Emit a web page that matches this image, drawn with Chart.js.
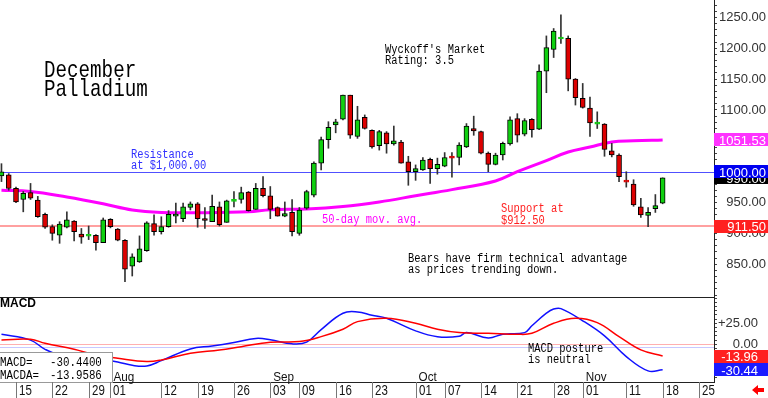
<!DOCTYPE html>
<html><head><meta charset="utf-8">
<script src="https://cdn.jsdelivr.net/npm/chart.js@4.4.1/dist/chart.umd.min.js"></script>
<style>
html,body{margin:0;padding:0;background:#fff;}
#wrap{position:relative;width:768px;height:398px;overflow:hidden;background:#fff;}
#c1{position:absolute;left:0;top:0;}
#c2{position:absolute;left:0;top:297px;}
</style></head><body>
<div id="wrap"><canvas id="c1" width="768" height="297"></canvas><canvas id="c2" width="768" height="101"></canvas></div>
<script>
// ---- DATA ----
const sessions = ['07-11','07-12','07-15','07-16','07-17','07-18','07-19','07-22','07-23','07-24','07-25','07-26','07-29','07-30','07-31','08-01','08-02','08-05','08-06','08-07','08-08','08-09','08-12','08-13','08-14','08-15','08-16','08-19','08-20','08-21','08-22','08-23','08-26','08-27','08-28','08-29','08-30','09-03','09-04','09-05','09-06','09-09','09-10','09-11','09-12','09-13','09-16','09-17','09-18','09-19','09-20','09-23','09-24','09-25','09-26','09-27','09-30','10-01','10-02','10-03','10-04','10-07','10-08','10-09','10-10','10-11','10-14','10-15','10-16','10-17','10-18','10-21','10-22','10-23','10-24','10-25','10-28','10-29','10-30','10-31','11-01','11-04','11-05','11-06','11-07','11-08','11-11','11-12','11-13','11-14','11-15','11-18','11-19','11-20','11-21','11-22','11-25'];

const opens = [993,995,973,955,966,954,931,911,897,910,920,899,
  895.5,897,885,923,907,889,847,854,872,916,
  903,911,928,924,942,948,924,919,943,918,
  952,955,967,939,973,961,942,928,934,900,
  941,962,1014,1052,1076,1085,1124,1057,1088,1067,
  1042,1063,1045,1048,1016,1000,1003,1020,1005,1009,
  1023,1023,1040,1070,1065,1030,1012,1027,1045,1086,
  1061,1085,1069,1163,1198,1215,1216,1150,1119,1103,
  1077,1077,1034,1027,984,980,943,929,940,949];
const highs = [1013,997,975,968,981,960,933,914,919,935,921,908,
  912,898,925,924,908,890,867,896,919,930,
  927,937,949,949,951,950,942,962,951,954,
  968,975,968,981,992,976,943,951,955,942,
  970,1016,1056,1081,1085,1124,1124,1106,1092,1068,
  1067,1065,1074,1051,1025,1011,1023,1022,1022,1031,
  1031,1047,1078,1090,1066,1032,1030,1048,1089,1094,
  1086,1086,1173,1220,1232,1254,1220,1151,1143,1121,
  1097,1078,1046,1029,1000,987,957,942,963,990];
const lows = [984,970,950,935,955,926,908,889,884,909,888,884,
  890,873,885,909,888,822,831,853,871,897,
  899,910,917,919,938,910,908,919,912,918,
  943,949,936,939,959,924,928,927,896,897,
  939,959,1003,1038,1063,1084,1054,1054,1069,1038,
  1035,1030,1043,1014,978,986,1002,981,996,1008,
  991,1011,1039,1059,1029,1000,1011,1019,1043,1048,
  1058,1056,1068,1128,1185,1208,1131,1108,1103,1057,
  1070,1025,1024,984,975,944,926,911,934,948];
const closes = [1000,973,951,965,957,927,910,900,915,922,903,894,
  896,885,922,911,889,842,862,875,917,903,
  911,931,931,943,948,924,921,944,914,953,
  953,966,937,973,961,939,928,932,903,938,
  968,1014,1052,1072,1081,1124,1059,1084,1070,1040,
  1065,1045,1050,1014,1000,1005,1019,1005,1012,1023,
  1022,1043,1074,1066,1030,1012,1027,1046,1084,1059,
  1083,1068,1163,1201,1228,1216,1150,1120,1104,1079,
  1077.5,1036,1027,992,983,946,930,934,945,990];

const maDates  = ['07-11','07-17','07-24','07-31','08-06','08-12','08-19','08-28','09-03','09-10','09-17','09-24','10-01','10-08','10-16','10-21','10-25','10-30','11-04','11-07','11-12','11-18'];
const maValues = [970,968,959,948,938,934,933.5,935,938.5,939.5,943.5,951,961,971,985,1000,1018,1032,1040,1048,1050,1051.53];

const macdDates  = ['07-11','07-17','07-19','07-23','07-29','08-02','08-06','08-08','08-12','08-16','08-21','08-26','08-29','09-03','09-06','09-10','09-12','09-17','09-19','09-23','09-25','10-01','10-04','10-09','10-10','10-15','10-17','10-22','10-23','10-25','10-28','10-29','11-01','11-06','11-11','11-14','11-18'];
const macdValues = [11.9,5,-6,-12.5,-15,-21,-25,-25.8,-19.5,-5.5,-2,2.2,7,5.5,0.5,2.5,17.5,37,38.5,34.5,31,16,9,9.5,13.9,7.5,12,13.9,22,37,42,42.5,28,10,-14.7,-31.7,-30.44];
const signalDates  = ['07-11','07-17','07-19','07-25','07-30','08-02','08-08','08-12','08-16','08-22','08-27','09-03','09-09','09-12','09-17','09-19','09-25','10-01','10-04','10-09','10-15','10-21','10-23','10-28','10-31','11-05','11-08','11-13','11-18'];
const signalValues = [5.2,6,1.2,-6,-12.7,-16.7,-20.6,-18.7,-10.7,-6.7,-2.8,2.4,3.2,9.1,17.9,27,31,25,17.9,13.9,13.1,11.9,13.1,25,31,25.8,9.1,-6.7,-13.96];

const xTickDates  = ['07-15','07-22','07-29','08-01','08-12','08-19','08-26','09-03','09-09','09-16','09-23','10-01','10-07','10-14','10-21','10-28','11-01','11-11','11-18','11-25'];
const xTickLabels = ['15','22','29','01','12','19','26','03','09','16','23','01','07','14','21','28','01','11','18','25'];
const monthDates  = ['08-01','09-03','10-01','11-01'];
const monthLabels = ['Aug','Sep','Oct','Nov'];

const resistance = 1000, support = 911.5;
const lastPrice = 990.00, lastMA = 1051.53;
const lastMACD = -30.44, lastSignal = -13.96;
const legendMACD = '-30.4400', legendMACDA = '-13.9586';

// ---- HELPERS ----
const idx = d => sessions.indexOf(d);
const XMIN = -0.202, XMAX = 98.07;
const MONO = '"Liberation Mono", monospace';
const SANS = '"Liberation Sans", Arial, sans-serif';
const NOTE = '12px ' + MONO, NSX = 0.87;
function txt(ctx, s, x, y, font, color, sx, align){
  ctx.save(); ctx.font = font; ctx.fillStyle = color; ctx.textBaseline = 'alphabetic';
  ctx.textAlign = align || 'left'; ctx.translate(x, y); ctx.scale(sx || 1, 1); ctx.fillText(s, 0, 0); ctx.restore();
}
function hline(ctx, x0, x1, y, color, w){
  ctx.save(); ctx.strokeStyle = color; ctx.lineWidth = w; ctx.beginPath();
  ctx.moveTo(x0, y); ctx.lineTo(x1, y); ctx.stroke(); ctx.restore();
}
function valBox(ctx, yy, bg, label, textRight){
  ctx.save(); ctx.fillStyle = bg; ctx.fillRect(714, Math.round(yy - 6.5), 54, 13); ctx.restore();
  txt(ctx, label, textRight, yy + 5, '13px ' + SANS, '#fff', 1, 'right');
}
const isUp = i => closes[i] >= opens[i];
const GREEN = '#10d010', RED = '#dd0000';
const noPad = s => { s.paddingTop = 0; s.paddingBottom = 0; };

// ---- PRICE CHART ----
const n = closes.length;
const wickData = [], bodyData = [];
for (let i = 0; i < n; i++) {
  wickData.push({x: i, y: [lows[i], highs[i]]});
  bodyData.push({x: i, y: [opens[i], closes[i]]});
}
const maData = maDates.map((d, k) => ({x: idx(d), y: maValues[k]}));

const pricePlugin = {
  id: 'pricePlugin',
  beforeDatasetsDraw(chart){
    const {ctx, chartArea: a, scales: {y}} = chart;
    hline(ctx, a.left, a.right, Math.round(y.getPixelForValue(resistance)) + 0.5, '#5050ff', 1);
    hline(ctx, a.left, a.right, Math.round(y.getPixelForValue(support)), '#ffa0a0', 2);
  },
  afterDraw(chart){
    const {ctx, scales: {y}} = chart;
    txt(ctx, 'December', 44, 77, '24px ' + MONO, '#000', 0.8);
    txt(ctx, 'Palladium', 44, 96, '24px ' + MONO, '#000', 0.8);
    txt(ctx, "Wyckoff's Market", 385, 53, NOTE, '#000', NSX);
    txt(ctx, 'Rating: 3.5', 385, 64, NOTE, '#000', NSX);
    txt(ctx, 'Resistance', 131, 158, NOTE, '#3030ff', NSX);
    txt(ctx, 'at $1,000.00', 131, 169, NOTE, '#3030ff', NSX);
    txt(ctx, '50-day mov. avg.', 322, 223, NOTE, '#ff00ff', NSX);
    txt(ctx, 'Support at', 501, 212, NOTE, '#ff2020', NSX);
    txt(ctx, '$912.50', 501, 224, NOTE, '#ff2020', NSX);
    txt(ctx, 'Bears have firm technical advantage', 408, 262, NOTE, '#000', NSX);
    txt(ctx, 'as prices trending down.', 408, 273, NOTE, '#000', NSX);
    valBox(ctx, y.getPixelForValue(lastPrice), '#000', lastPrice.toFixed(2), 766);
    valBox(ctx, y.getPixelForValue(resistance), '#0000f0', resistance.toFixed(2), 766);
    valBox(ctx, y.getPixelForValue(support), '#ff2020', support.toFixed(2), 766);
    valBox(ctx, y.getPixelForValue(lastMA), '#ff33ff', lastMA.toFixed(2), 766);
  }
};

new Chart(document.getElementById('c1'), {
  type: 'bar',
  data: { datasets: [
    { type: 'line', data: maData, borderColor: '#ff00ff', borderWidth: 3, pointRadius: 0, tension: 0.4, order: 3 },
    { type: 'bar', data: wickData, backgroundColor: '#333', barThickness: 1, grouped: false, order: 2 },
    { type: 'bar', data: bodyData, grouped: false, order: 1, barThickness: 5, borderWidth: 1, borderSkipped: false,
      backgroundColor: c => isUp(c.dataIndex) ? GREEN : RED,
      borderColor: c => Math.abs(closes[c.dataIndex] - opens[c.dataIndex]) < 2 ? (isUp(c.dataIndex) ? GREEN : RED) : '#000',
      minBarLength: 2 }
  ]},
  options: {
    responsive: false, animation: false,
    layout: { padding: { left: 0, right: 2, top: 0, bottom: 0 } },
    plugins: { legend: { display: false }, tooltip: { enabled: false } },
    scales: {
      x: { type: 'linear', min: XMIN, max: XMAX, offset: false, display: false },
      y: { position: 'right', min: 797, max: 1278.2, beginAtZero: false,
        afterBuildTicks: s => { const t = []; for (let v = 800; v <= 1270; v += 10) t.push({value: v}); s.ticks = t; },
        afterFit: s => { s.width = 52; noPad(s); },
        ticks: { autoSkip: false, crossAlign: 'far', padding: 2, color: '#333', font: { family: 'Liberation Sans', size: 13 },
          callback: v => (v % 50 === 0 && v >= 850 ? v.toFixed(2) : '') },
        grid: { drawOnChartArea: false, tickLength: 3, color: '#444' },
        border: { color: '#222' } }
    }
  },
  plugins: [pricePlugin]
});

// ---- MACD CHART ----
const macdData = macdDates.map((d, k) => ({x: idx(d), y: macdValues[k]}));
const sigData = signalDates.map((d, k) => ({x: idx(d), y: signalValues[k]}));

const macdPlugin = {
  id: 'macdPlugin',
  beforeDatasetsDraw(chart){
    const {ctx, chartArea: a, scales: {y}} = chart;
    hline(ctx, a.left, a.right, Math.round(y.getPixelForValue(0)) + 0.5, '#ffb0b0', 1);
    hline(ctx, a.left, a.right, Math.round(y.getPixelForValue(-3.6)) + 0.5, '#c8c8ff', 1);
  },
  afterDraw(chart){
    const {ctx, chartArea: a, scales: {x, y}} = chart;
    hline(ctx, 0, 714, 0.5, '#222', 1);
    hline(ctx, 0, 714, a.bottom + 0.5, '#222', 1);
    txt(ctx, 'MACD', 0, 10, 'bold 12px ' + SANS, '#000', 1);
    txt(ctx, 'MACD posture', 528, 55, NOTE, '#000', NSX);
    txt(ctx, 'is neutral', 528, 66, NOTE, '#000', NSX);
    // legend box
    ctx.save(); ctx.fillStyle = '#fff'; ctx.fillRect(-1, 55, 114, 31); ctx.strokeStyle = '#999'; ctx.lineWidth = 1;
    ctx.strokeRect(-0.5, 55.5, 113, 30); ctx.restore();
    txt(ctx, 'MACD=', 0, 69, '12px ' + MONO, '#000', 0.9);
    txt(ctx, legendMACD, 50, 69, '12px ' + MONO, '#000', 0.9);
    txt(ctx, 'MACDA=', 0, 82, '12px ' + MONO, '#000', 0.9);
    txt(ctx, legendMACDA, 50, 82, '12px ' + MONO, '#000', 0.9);
    // value boxes
    valBox(ctx, y.getPixelForValue(lastSignal), '#ff2020', lastSignal.toFixed(2), 758);
    valBox(ctx, y.getPixelForValue(lastMACD), '#1a1aff', lastMACD.toFixed(2), 758);
    // bottom date axis
    xTickDates.forEach((d, k) => {
      const px = Math.round(x.getPixelForValue(idx(d))) + 0.5;
      ctx.save(); ctx.strokeStyle = '#777'; ctx.lineWidth = 1; ctx.beginPath();
      ctx.moveTo(px, a.bottom); ctx.lineTo(px, 101); ctx.stroke(); ctx.restore();
      txt(ctx, xTickLabels[k], px + 2.5, 98, '14px ' + SANS, '#111', 0.82);
    });
    monthDates.forEach((d, k) => {
      const px = x.getPixelForValue(idx(d));
      txt(ctx, monthLabels[k], px + 3, 84, '13px ' + SANS, '#111', 0.9);
    });
    // red arrow
    ctx.save(); ctx.fillStyle = '#ff0000'; ctx.beginPath();
    ctx.moveTo(752, 93); ctx.lineTo(758, 88); ctx.lineTo(758, 91); ctx.lineTo(764, 91); ctx.lineTo(764, 95);
    ctx.lineTo(758, 95); ctx.lineTo(758, 98); ctx.closePath(); ctx.fill(); ctx.restore();
  }
};

new Chart(document.getElementById('c2'), {
  type: 'line',
  data: { datasets: [
    { data: sigData, borderColor: '#ff0000', borderWidth: 1.5, pointRadius: 0, tension: 0.4 },
    { data: macdData, borderColor: '#1010ff', borderWidth: 1.5, pointRadius: 0, tension: 0.4 }
  ]},
  options: {
    responsive: false, animation: false,
    layout: { padding: { left: 0, right: 10, top: 0, bottom: 16 } },
    plugins: { legend: { display: false }, tooltip: { enabled: false } },
    scales: {
      x: { type: 'linear', min: XMIN, max: XMAX, offset: false, display: false },
      y: { position: 'right', min: -44.9, max: 56.3,
        afterBuildTicks: s => { const t = []; for (let v = -40; v <= 55; v += 5) t.push({value: v}); s.ticks = t; },
        afterFit: s => { s.width = 44; noPad(s); },
        ticks: { autoSkip: false, crossAlign: 'far', padding: 2, color: '#333', font: { family: 'Liberation Sans', size: 13 },
          callback: v => (v === 25 ? '+25.00' : v === 0 ? '0.00' : v === -25 ? '-25.00' : '') },
        grid: { drawOnChartArea: false, tickLength: 3, color: '#444' },
        border: { color: '#222' } }
    }
  },
  plugins: [macdPlugin]
});
</script>
</body></html>
